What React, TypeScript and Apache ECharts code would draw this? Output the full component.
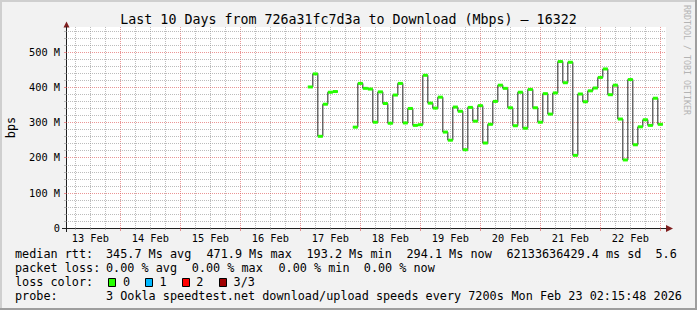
import React, { useEffect, useRef } from 'react';
import * as echarts from 'echarts';

const titleText = 'Last 10 Days from 726a31fc7d3a to Download (Mbps) — 16322';
const yAxisName = 'bps';
const watermarkText = 'RRDTOOL / TOBI OETIKER';

// hours counted from 13 Feb 00:00
const axisStartHour = 2.2633; // 13 Feb 02:15:48
const axisEndHour = 242.2633; // 23 Feb 02:15:48
const firstSampleHour = 99; // 17 Feb 03:00
const sampleStepHours = 2; // 7200 s

const medianMbps: (number | null)[] = [
  400, 437, 260, 351, 385, 387, null, null, null,
  286, 410, 396, 394, 300, 386, 353, 297, 377, 410,
  298, 339, 291, 293, 433, 354, 340, 371, 272, 249,
  343, 331, 222, 342, 303, 347, 241, 294, 359, 405,
  396, 341, 290, 385, 283, 393, 341, 300, 381, 323,
  383, 472, 412, 470, 206, 380, 358, 389, 397, 427,
  451, 378, 405, 309, 193, 421, 236, 287, 307, 291,
  368, 294,
];

const dayLabels = ['13 Feb', '14 Feb', '15 Feb', '16 Feb', '17 Feb', '18 Feb', '19 Feb', '20 Feb', '21 Feb', '22 Feb'];
const dayLabelHours = [12, 36, 60, 84, 108, 132, 156, 180, 204, 228];

const yMax = 570;
const yMajorStep = 100;
const yMinorStep = 20;
const xMinorStepHours = 6;
const xMajorStepHours = 24;

const rttLabel = 'median rtt:';
const rttStats = ['345.7 Ms avg', '471.9 Ms max', '193.2 Ms min', '294.1 Ms now', '62133636429.4 ms sd', '5.6'];
const lossLabel = 'packet loss:';
const lossStats = ['0.00 % avg', '0.00 % max', '0.00 % min', '0.00 % now'];
const lossColorLabel = 'loss color:';
const lossColorNames = ['0', '1', '2', '3/3'];
const lossColors = ['#26ff00', '#00b8ff', '#ff0000', '#a00000'];
const probeLabel = 'probe:';
const probeText = '3 Ookla speedtest.net download/upload speeds every 7200s';
const dateText = 'Mon Feb 23 02:15:48 2026';

const MONO = "'DejaVu Sans Mono', monospace";
const GRID_GRAY = 'rgba(143,143,143,0.6)';
const GRID_RED = 'rgba(222,79,79,0.6)';
const AXIS = '#1f1f1f';
const ARROW = '#801f1f';

function txt(text: string, x: number, y: number, size: number, extra: any = {}) {
  return {
    type: 'text',
    x,
    y,
    silent: true,
    style: {
      text,
      fill: '#000',
      font: `${size}px ${MONO}`,
      fontFamily: MONO,
      fontSize: size,
      align: 'left',
      verticalAlign: 'middle',
      textAlign: 'left',
      textVerticalAlign: 'middle',
      ...extra,
    },
  };
}

export default function App() {
  const ref = useRef<HTMLDivElement>(null);

  useEffect(() => {
    document.body.style.margin = '0';
    const chart = echarts.init(ref.current!, null, { renderer: 'svg' });

    // step line (black) and loss-coloured bands
    const linePts: any[] = [];
    const bands: any[] = [];
    medianMbps.forEach((v, i) => {
      const s = firstSampleHour + i * sampleStepHours;
      if (v == null) {
        linePts.push([s, null]);
        return;
      }
      linePts.push([s, v], [s + sampleStepHours, v]);
      bands.push([s, v, s + sampleStepHours]);
    });

    const vGrid: number[][] = [];
    for (let h = Math.ceil(axisStartHour / xMinorStepHours) * xMinorStepHours; h <= axisEndHour; h += xMinorStepHours) {
      vGrid.push([h, 0, h % xMajorStepHours === 0 ? 1 : 0]);
    }
    const hGrid: number[][] = [];
    for (let v = yMinorStep; v < yMax; v += yMinorStep) {
      hGrid.push([axisStartHour, v, v % yMajorStep === 0 ? 1 : 0]);
    }
    const labelData = dayLabelHours.map((h, i) => [h, 0, i]);

    const legendY = [254.3, 268.3, 282.3, 296];
    const graphics: any[] = [
      // frame
      { type: 'rect', shape: { x: 0, y: 0, width: 697, height: 2 }, style: { fill: '#cfcfcf' }, silent: true },
      { type: 'rect', shape: { x: 0, y: 0, width: 2, height: 310 }, style: { fill: '#cfcfcf' }, silent: true },
      { type: 'rect', shape: { x: 0, y: 308, width: 697, height: 2 }, style: { fill: '#9e9e9e' }, silent: true },
      { type: 'rect', shape: { x: 695, y: 0, width: 2, height: 310 }, style: { fill: '#9e9e9e' }, silent: true },
      // title
      txt(titleText, 348.5, 19.5, 13.3, { align: 'center', textAlign: 'center' }),
      // y axis name
      {
        ...txt(yAxisName, 10.5, 127.5, 11.8, { align: 'center', textAlign: 'center' }),
        rotation: Math.PI / 2,
      },
      // watermark
      {
        ...txt(watermarkText, 687, 60, 8.3, { align: 'center', textAlign: 'center', fill: '#b4b4b4' }),
        rotation: -Math.PI / 2,
      },
      // axis extensions and arrows
      { type: 'line', shape: { x1: 62, y1: 228.5, x2: 66, y2: 228.5 }, style: { stroke: AXIS, lineWidth: 1 }, silent: true },
      { type: 'line', shape: { x1: 66.5, y1: 228, x2: 66.5, y2: 232 }, style: { stroke: AXIS, lineWidth: 1 }, silent: true },
      { type: 'polygon', shape: { points: [[63.5, 27.5], [69.5, 27.5], [66.5, 21.5]] }, style: { fill: ARROW }, silent: true },
      { type: 'polygon', shape: { points: [[666, 225], [666, 232], [673, 228.5]] }, style: { fill: ARROW }, silent: true },
      // legend
      txt(rttLabel, 15, legendY[0], 11.8),
      ...rttStats.map((t, i) => txt(t, [106, 206.5, 306.5, 406.5, 506.5, 655.5][i], legendY[0], 11.8)),
      txt(lossLabel, 15, legendY[1], 11.8),
      ...lossStats.map((t, i) => txt(t, [106, 191.8, 278.5, 363.8][i], legendY[1], 11.8)),
      txt(lossColorLabel, 15, legendY[2], 11.8),
      ...lossColors.map((c, i) => ({
        type: 'rect',
        shape: { x: [108.5, 145.5, 182.5, 219.5][i], y: 278.5, width: 7, height: 8 },
        style: { fill: c, stroke: '#000', lineWidth: 1 },
        silent: true,
      })),
      ...lossColorNames.map((t, i) => txt(t, [123, 159.4, 196.3, 233.6][i], legendY[2], 11.8)),
      txt(probeLabel, 15, legendY[3], 11.8),
      txt(probeText, 106, legendY[3], 11.8),
      txt(dateText, 511.5, legendY[3], 11.8),
    ];

    const option: any = {
      animation: false,
      backgroundColor: '#f2f2f2',
      grid: {
        left: 66,
        top: 27,
        width: 600,
        height: 201,
        show: true,
        backgroundColor: '#ffffff',
        borderWidth: 0,
        containLabel: false,
        outerBoundsMode: 'none',
      },
      xAxis: {
        type: 'value',
        min: axisStartHour,
        max: axisEndHour,
        axisLine: { show: true, lineStyle: { color: AXIS, width: 1 } },
        axisTick: { show: false },
        axisLabel: { show: false },
        splitLine: { show: false },
      },
      yAxis: {
        type: 'value',
        min: 0,
        max: yMax,
        interval: yMajorStep,
        axisLine: { show: true, lineStyle: { color: AXIS, width: 1 } },
        axisTick: { show: false },
        splitLine: { show: false },
        axisLabel: {
          fontFamily: MONO,
          fontSize: 10.3,
          color: '#000',
          margin: 6,
          formatter: (v: number) => (v === 0 ? '0' : v % yMajorStep === 0 ? `${v} M` : ''),
        },
      },
      graphic: { elements: graphics },
      series: [
        {
          type: 'custom',
          name: 'vgrid',
          silent: true,
          z: 1,
          clip: false,
          encode: { x: 0, y: 1 },
          data: vGrid,
          renderItem: (params: any, api: any) => {
            const cs = params.coordSys;
            const major = api.value(2) === 1;
            const x = Math.round(api.coord([api.value(0), 0])[0]) + 0.5;
            const bottom = cs.y + cs.height;
            return {
              type: 'group',
              children: [
                {
                  type: 'line',
                  shape: { x1: x, y1: cs.y, x2: x, y2: bottom },
                  style: { stroke: major ? GRID_RED : GRID_GRAY, lineWidth: 1, lineDash: [1, 1] },
                },
                {
                  type: 'line',
                  shape: { x1: x, y1: bottom, x2: x, y2: bottom + (major ? 3 : 2) },
                  style: { stroke: major ? GRID_RED : GRID_GRAY, lineWidth: 1 },
                },
              ],
            };
          },
        },
        {
          type: 'custom',
          name: 'hgrid',
          silent: true,
          z: 1,
          clip: false,
          encode: { x: 0, y: 1 },
          data: hGrid,
          renderItem: (params: any, api: any) => {
            const cs = params.coordSys;
            const major = api.value(2) === 1;
            const y = Math.round(api.coord([api.value(0), api.value(1)])[1]) + 0.5;
            return {
              type: 'group',
              children: [
                {
                  type: 'line',
                  shape: { x1: cs.x, y1: y, x2: cs.x + cs.width, y2: y },
                  style: { stroke: major ? GRID_RED : GRID_GRAY, lineWidth: 1, lineDash: [1, 1] },
                },
                {
                  type: 'line',
                  shape: { x1: cs.x - 2, y1: y, x2: cs.x, y2: y },
                  style: { stroke: major ? GRID_RED : GRID_GRAY, lineWidth: 1 },
                },
              ],
            };
          },
        },
        {
          type: 'custom',
          name: 'dayLabels',
          silent: true,
          z: 2,
          clip: false,
          encode: { x: 0, y: 1 },
          data: labelData,
          renderItem: (params: any, api: any) => {
            const cs = params.coordSys;
            const p = api.coord([api.value(0), 0]);
            return {
              type: 'text',
              x: p[0],
              y: cs.y + cs.height + 9.7,
              style: {
                text: dayLabels[api.value(2)],
                fill: '#000',
                font: `10.3px ${MONO}`,
                align: 'center',
                verticalAlign: 'middle',
              },
            };
          },
        },
        {
          type: 'line',
          name: 'median',
          data: linePts,
          symbol: 'none',
          showSymbol: false,
          connectNulls: false,
          silent: true,
          z: 3,
          lineStyle: { color: '#202020', width: 1 },
        },
        {
          type: 'custom',
          name: 'loss0',
          silent: true,
          z: 4,
          encode: { x: 0, y: 1 },
          data: bands,
          renderItem: (params: any, api: any) => {
            const p1 = api.coord([api.value(0), api.value(1)]);
            const p2 = api.coord([api.value(2), api.value(1)]);
            return {
              type: 'rect',
              shape: { x: p1[0], y: p1[1] - 1.5, width: p2[0] - p1[0], height: 3 },
              style: { fill: lossColors[0] },
            };
          },
        },
      ],
    };

    chart.setOption(option);
    return () => chart.dispose();
  }, []);

  return <div ref={ref} style={{ width: 697, height: 310 }} />;
}
